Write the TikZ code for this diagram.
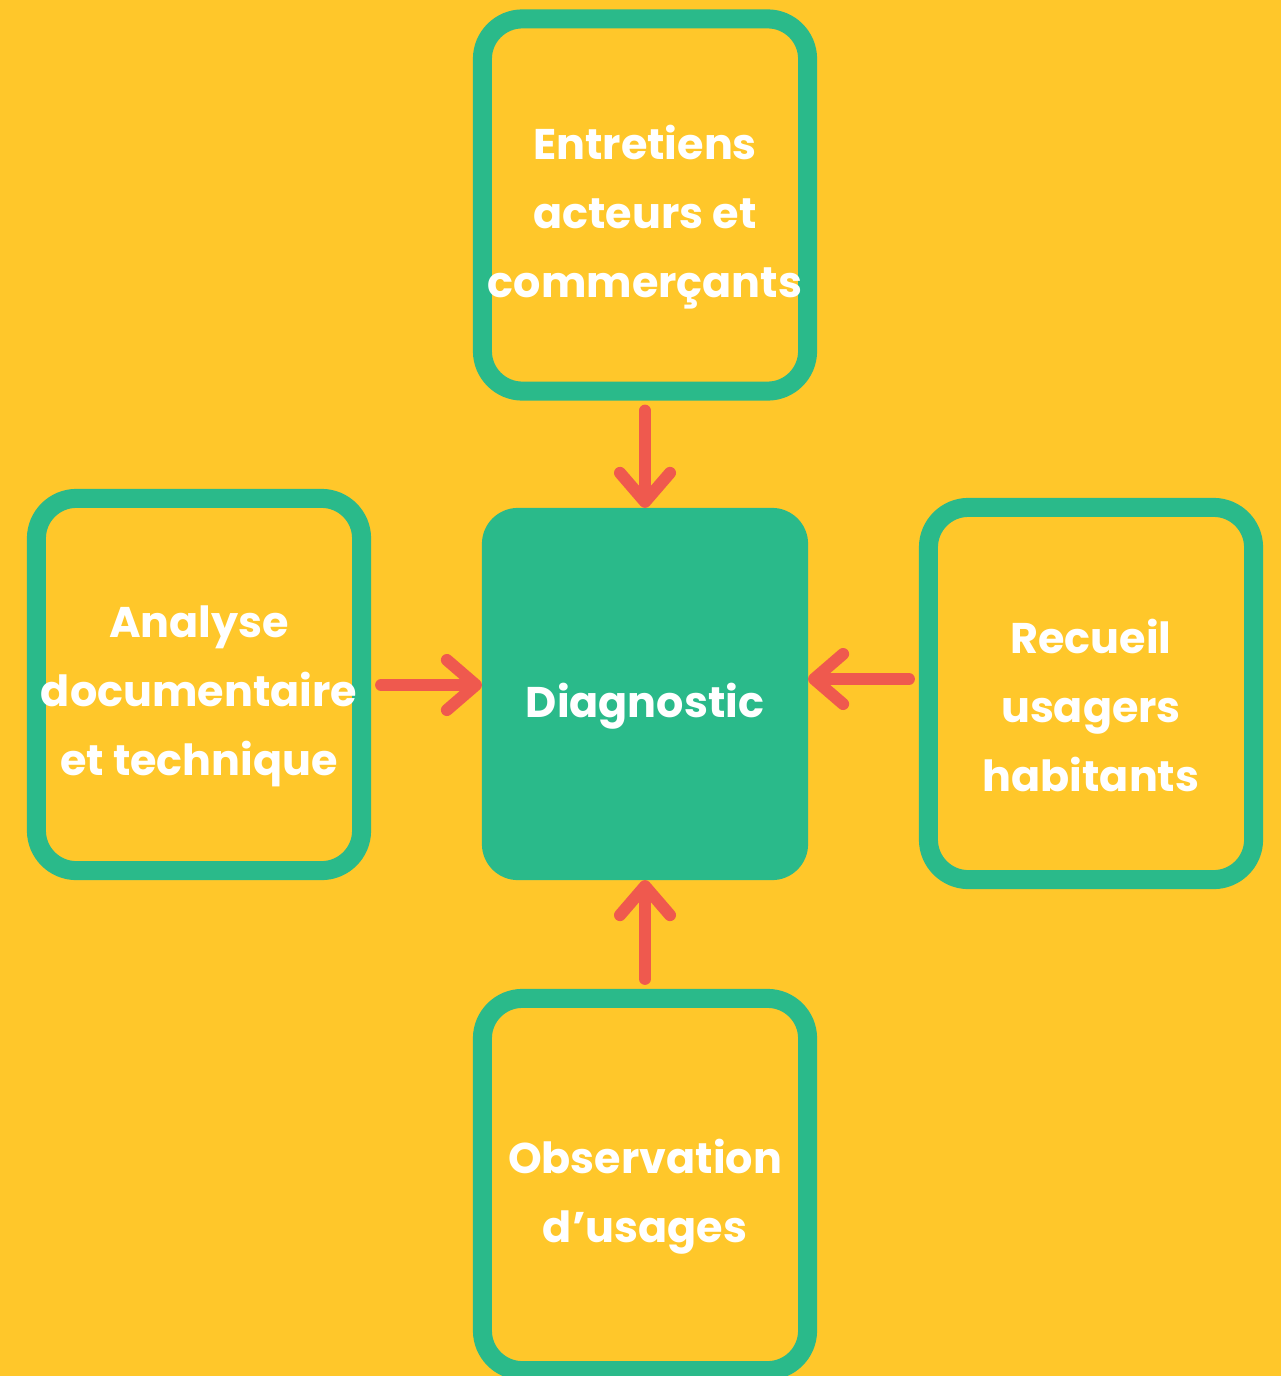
\documentclass[tikz,border=0pt]{standalone}
\usepackage{fontspec}
\setmainfont{Poppins}
\usetikzlibrary{arrows.meta}
\usetikzlibrary{positioning}

\definecolor{fond}{RGB}{255,199,42}
\definecolor{vert}{RGB}{42,186,138}
\definecolor{rouge}{RGB}{239,89,78}

\tikzset{
	texte/.style={text=white, font=\fontsize{12.2pt}{19.6pt}\selectfont\bfseries, align=center, inner sep=0pt, yshift=-0.12cm},
	source/.style={draw=vert, line width=0.19cm, rounded corners=0.4cm, minimum width=3.25cm, minimum height=3.72cm, inner sep=0pt},
	centre/.style={fill=vert, rounded corners=0.36cm, minimum width=3.26cm, minimum height=3.72cm, inner sep=0pt, outer sep=0pt},
	fleche/.style={draw=rouge, line width=0.12cm, line cap=round, -{Straight Barb[length=0.29cm, width=0.5cm, round]}}
}

\begin{document}
\begin{tikzpicture}[x=0.01cm, y=-0.01cm]
	\fill[fond] (0,0) rectangle (1281,1376);
	\useasboundingbox (0,0) rectangle (1281,1376);
	\clip (0,0) rectangle (1281,1376);

	\node[centre, label={[texte]center:Diagnostic}] (diag) at (645,694) {};
	\node[source, label={[texte]center:{Entretiens\\acteurs et\\commerçants}}] (entretiens) at (645,205) {};
	\node[source, label={[texte]center:{Analyse\\documentaire\\et technique}}] (analyse) at (199,684.5) {};
	\node[source, label={[texte]center:{Recueil\\usagers\\habitants}}] (recueil) at (1091,693.5) {};
	\node[source, label={[texte]center:{Observation\\d’usages}}] (observation) at (645,1184.5) {};

	\draw[fleche] ([yshift=-0.1cm]entretiens.south) -- (diag.north);
	\draw[fleche] ([xshift=0.1cm]analyse.east |- 0,685) -- (diag.west |- 0,685);
	\draw[fleche] ([xshift=-0.1cm]recueil.west |- 0,679) -- (diag.east |- 0,679);
	\draw[fleche] ([yshift=0.1cm]observation.north) -- (diag.south);
\end{tikzpicture}
\end{document}
